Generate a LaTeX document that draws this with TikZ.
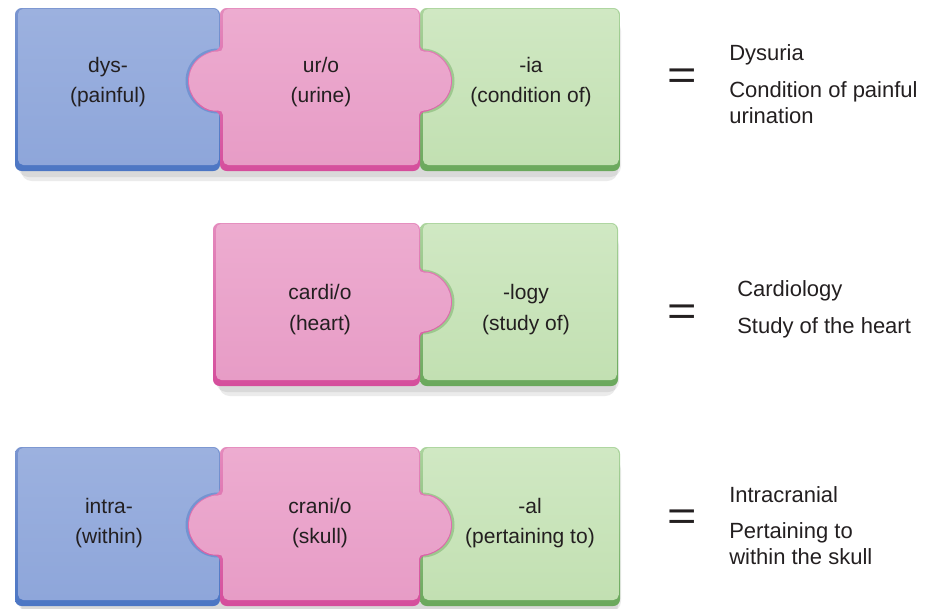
\documentclass[tikz,border=0pt]{standalone}
\usepackage{fontspec}
\setmainfont{Liberation Sans}
\usepackage{graphicx}

\definecolor{ink}{HTML}{231F20}
\definecolor{bluetop}{HTML}{9CB1DF}
\definecolor{bluebot}{HTML}{8EA6DA}
\definecolor{bluemid}{HTML}{7A95D0}
\definecolor{blueedge}{HTML}{4C76C4}
\definecolor{pinktop}{HTML}{EDACD0}
\definecolor{pinkbot}{HTML}{E79CC6}
\definecolor{pinkmid}{HTML}{E48BBD}
\definecolor{pinkedge}{HTML}{D54E9C}
\definecolor{greentop}{HTML}{D0E8C3}
\definecolor{greenbot}{HTML}{C2E0B2}
\definecolor{greenmid}{HTML}{ABD49D}
\definecolor{greenedge}{HTML}{6AA85C}

% Puzzle tabs: #1 edge x, #2 centre y, #3 centre x, #4 radius
\newcommand\notab[4]{}
\newcommand\tabR[4]{-- (#1,{(#2)-sqrt((#4)^2-((#3)-(#1))^2)})
  arc[start angle={-acos(((#1)-(#3))/(#4))}, end angle={acos(((#1)-(#3))/(#4))}, radius=#4]}
\newcommand\tabL[4]{-- (#1,{(#2)+sqrt((#4)^2-((#1)-(#3))^2)})
  arc[start angle={acos(((#1)-(#3))/(#4))}, end angle={360-acos(((#1)-(#3))/(#4))}, radius=#4]}

% Outline of one piece: x0, x1, y0, y1, tab centre y, left tab, right tab, tab radius
\newcommand\pshape[8]{(#1,#3) -- (#2,#3) #7{#2}{#5}{\rcx}{#8} -- (#2,#4) -- (#1,#4) #6{#1}{#5}{\lcx}{#8} -- cycle}

% A raised piece: darker body with a deep bottom band, then the shaded face
\newcommand\piece[8]{%
  \def\lcx{#1-2}\def\rcx{#2+2}%
  \shade[top color=#8mid, bottom color=#8edge, rounded corners=5pt]
    \pshape{#1}{#2}{#3}{#4}{#5}{#6}{#7}{30};
  \shade[top color=#8top, bottom color=#8bot, rounded corners=4pt]
    \pshape{#1+3}{#2-1.2}{#3+0.8}{#4-6}{#5}{#6}{#7}{29};
}

% Soft shadow under a row of pieces
\newcommand\rowshadow[4]{%
  \fill[black, opacity=.08, rounded corners=8pt] (#1+3,#3+12) rectangle (#2+1,#4+6);
  \fill[black, opacity=.08, rounded corners=8pt] (#1+6,#3+12) rectangle (#2-2,#4+10);
}

\tikzset{
  word/.style={font=\fontsize{15.75}{18}\selectfont, text=ink, anchor=base, inner sep=0pt},
  result/.style={font=\fontsize{16.5}{19.5}\selectfont, text=ink, anchor=base west, inner sep=0pt},
  equals/.style={font=\fontsize{31.5}{34}\selectfont, text=ink, anchor=base, inner sep=0pt},
}

\begin{document}
\begin{tikzpicture}[x=0.75pt, y=-0.75pt]
\useasboundingbox (0,0) rectangle (926,608);

% ---- dys- + ur/o + -ia
\rowshadow{15}{620}{8}{171}
\piece{15}{220}{8}{171}{81}{\notab}{\notab}{blue}
\piece{420}{620}{8}{171}{81}{\notab}{\notab}{green}
\fill[blueedge, opacity=.45] (218,81) circle[radius=32.5];
\fill[greenedge, opacity=.45] (422,81) circle[radius=32.5];
\piece{220}{420}{8}{171}{81}{\tabL}{\tabR}{pink}

\node[word] (dys)   at (108,72)  {dys-};
\node[word] (dysm)  at (108,102) {(painful)};
\node[word] (uro)   at (321,72)  {ur/o};
\node[word] (urom)  at (321,102) {(urine)};
\node[word] (ia)    at (531,72)  {-ia};
\node[word] (iam)   at (531,102) {(condition of)};

\node[equals] (eq1) at (682,89) {\scalebox{1.2}[1]{=}};
\node[result] (r1a) at (729,60)  {Dysuria};
\node[result] (r1b) at (729,97)  {Condition of painful};
\node[result] (r1c) at (729,123) {urination};

% ---- cardi/o + -logy
\rowshadow{213}{618}{223}{386}
\piece{420}{618}{223}{386}{302}{\notab}{\notab}{green}
\fill[greenedge, opacity=.45] (422,302) circle[radius=32.5];
\piece{213}{420}{223}{386}{302}{\notab}{\tabR}{pink}

\node[word] (cardi)  at (320,299) {cardi/o};
\node[word] (cardim) at (320,330) {(heart)};
\node[word] (logy)   at (526,299) {-logy};
\node[word] (logym)  at (526,330) {(study of)};

\node[equals] (eq2) at (682,325) {\scalebox{1.2}[1]{=}};
\node[result] (r2a) at (737,296) {Cardiology};
\node[result] (r2b) at (737,333) {Study of the heart};

% ---- intra- + crani/o + -al
\rowshadow{15}{620}{447}{606}
\piece{15}{220}{447}{606}{525}{\notab}{\notab}{blue}
\piece{420}{620}{447}{606}{525}{\notab}{\notab}{green}
\fill[blueedge, opacity=.45] (218,525) circle[radius=32.5];
\fill[greenedge, opacity=.45] (422,525) circle[radius=32.5];
\piece{220}{420}{447}{606}{525}{\tabL}{\tabR}{pink}

\node[word] (intra)  at (109,513) {intra-};
\node[word] (intram) at (109,543) {(within)};
\node[word] (crani)  at (320,513) {crani/o};
\node[word] (cranim) at (320,543) {(skull)};
\node[word] (al)     at (530,513) {-al};
\node[word] (alm)    at (530,543) {(pertaining to)};

\node[equals] (eq3) at (682,530) {\scalebox{1.2}[1]{=}};
\node[result] (r3a) at (729,502) {Intracranial};
\node[result] (r3b) at (729,538) {Pertaining to};
\node[result] (r3c) at (729,564) {within the skull};
\end{tikzpicture}
\end{document}
